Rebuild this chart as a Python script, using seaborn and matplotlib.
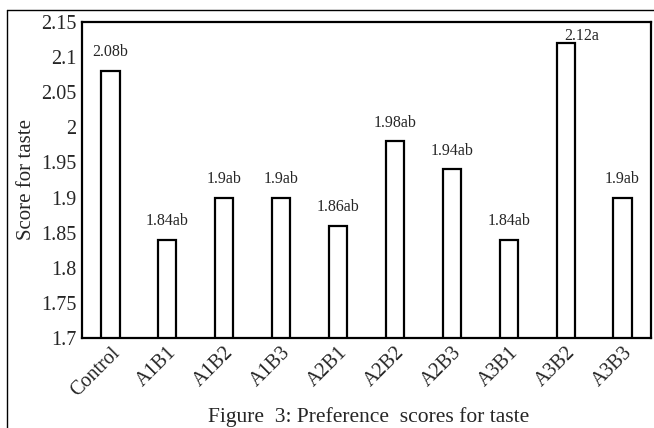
import matplotlib
matplotlib.use("Agg")
import matplotlib.pyplot as plt
import seaborn as sns
from matplotlib.lines import Line2D

categories = ["Control", "A1B1", "A1B2", "A1B3", "A2B1", "A2B2", "A2B3", "A3B1", "A3B2", "A3B3"]
values = [2.08, 1.84, 1.90, 1.90, 1.86, 1.98, 1.94, 1.84, 2.12, 1.90]
letters = ["b", "ab", "ab", "ab", "ab", "ab", "ab", "ab", "a", "ab"]
ytick_vals = [1.7, 1.75, 1.8, 1.85, 1.9, 1.95, 2.0, 2.05, 2.1, 2.15]
ytick_labels = ["1.7", "1.75", "1.8", "1.85", "1.9", "1.95", "2", "2.05", "2.1", "2.15"]

sns.set_theme(style="white")
plt.rcParams["font.family"] = ["Liberation Serif", "DejaVu Serif"]

fig = plt.figure(figsize=(6.54, 4.28), dpi=100)
ax = fig.add_axes([0.1254, 0.2103, 0.8700, 0.7383])

sns.barplot(x=categories, y=values, color="white", saturation=1, edgecolor="black",
            linewidth=1.6, width=0.32, ax=ax)

ax.set_ylim(1.7, 2.15)
ax.set_yticks(ytick_vals)
ax.set_yticklabels(ytick_labels, fontsize=14.5)
ax.tick_params(axis="both", length=0, pad=4)
ax.set_xticks(range(len(categories)))
ax.set_xticklabels(categories, rotation=45, ha="right", rotation_mode="anchor", fontsize=14.5)
ax.set_ylabel("Score for taste", fontsize=15, labelpad=4)
ax.set_xlabel("")
for s in ax.spines.values():
    s.set_color("black")
    s.set_linewidth(1.6)

for i, (v, l) in enumerate(zip(values, letters)):
    txt = f"{v:g}{l}"
    if i == 8:
        ax.annotate(txt, (i, v), xytext=(-1, 5), textcoords="offset points",
                    ha="left", va="center", fontsize=11.5)
    else:
        ax.annotate(txt, (i, v), xytext=(0, 13.5), textcoords="offset points",
                    ha="center", va="center", fontsize=11.5)

fig.text(0.563, 0.026, "Figure  3: Preference  scores for taste", ha="center", va="center",
         fontsize=15.5)

fig.add_artist(Line2D([7 / 654, 1.0], [1 - 10 / 428, 1 - 10 / 428], transform=fig.transFigure,
                      color="black", linewidth=1.0))
fig.add_artist(Line2D([7 / 654, 7 / 654], [0, 1 - 10 / 428], transform=fig.transFigure,
                      color="black", linewidth=1.0))

fig.savefig("out.png", dpi=100)
